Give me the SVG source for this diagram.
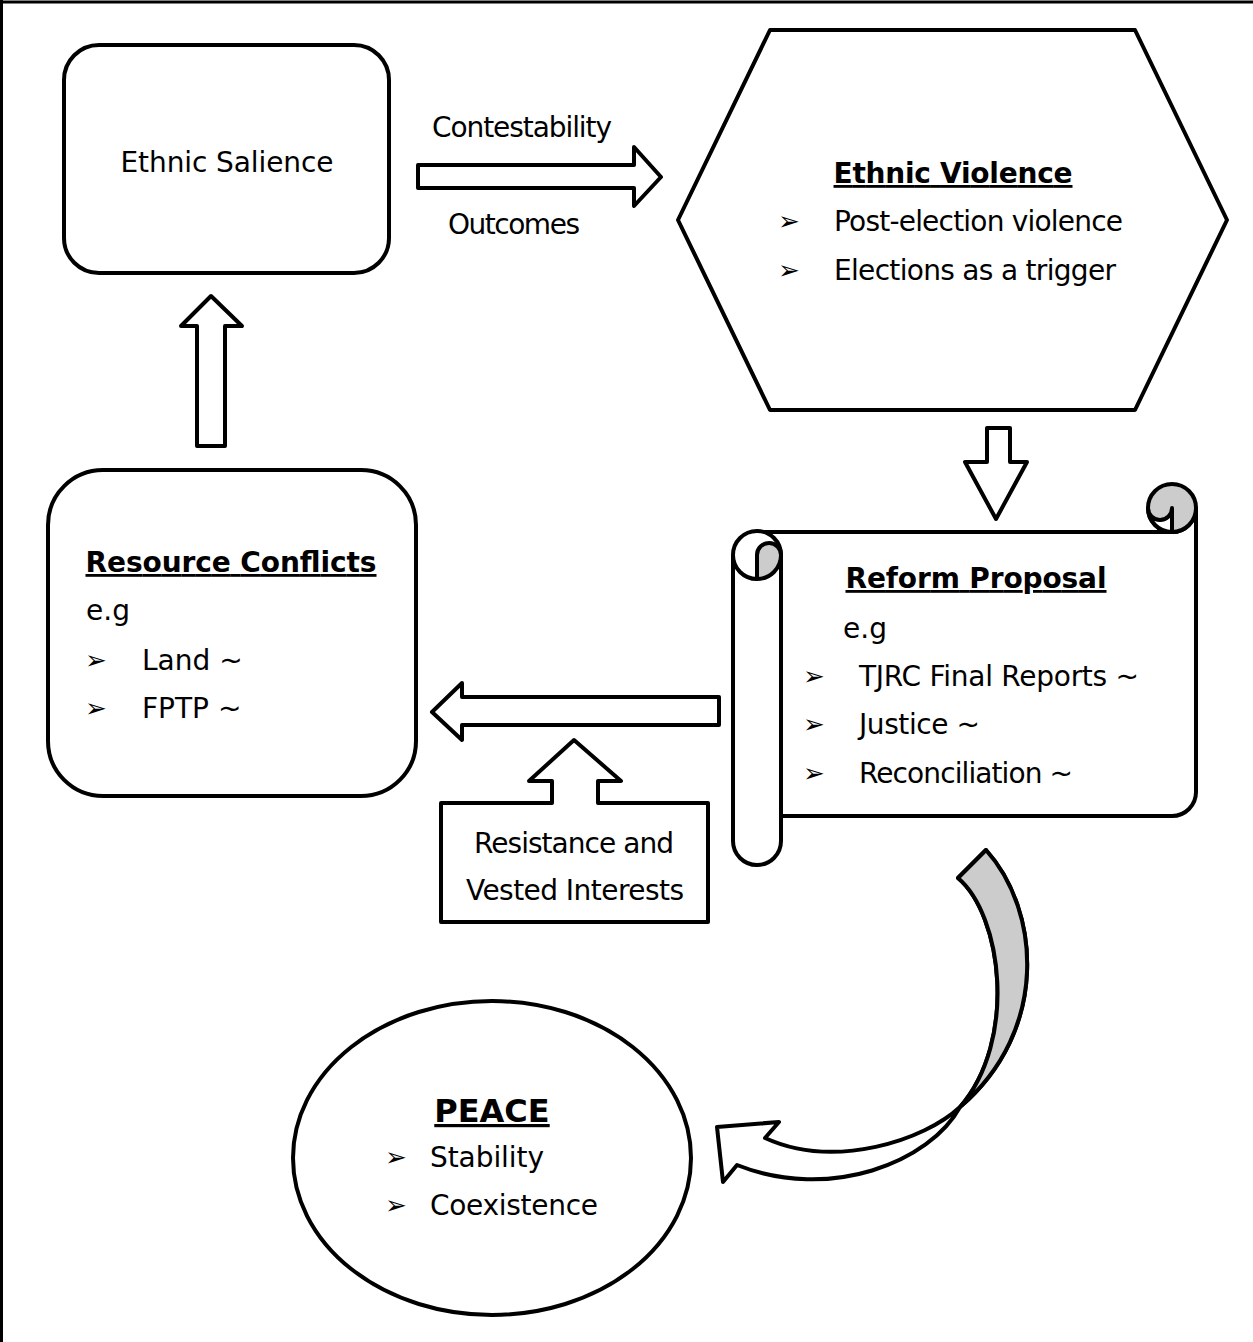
<svg xmlns="http://www.w3.org/2000/svg" width="1253" height="1342" viewBox="0 0 1253 1342">
<style>
text{font-family:"DejaVu Sans","Verdana","Liberation Sans",sans-serif;font-size:28px;fill:#000}
.b{font-weight:bold;text-decoration:underline}
.bul{font-size:26px}
.big{font-size:32px}
.s{fill:#fff;stroke:#000;stroke-width:4;stroke-linejoin:round}
.g{fill:#cccccc;stroke:#000;stroke-width:4;stroke-linejoin:round}
.n{fill:none;stroke:#000;stroke-width:4;stroke-linejoin:round}
</style>
<rect width="1253" height="1342" fill="#fff"/>
<g id="frame">
<line x1="0" y1="2" x2="1253" y2="2" stroke="#000" stroke-width="3"/>
<line x1="1.5" y1="0" x2="1.5" y2="1342" stroke="#000" stroke-width="3"/>
</g>
<g id="connectors">
<path id="c-right" class="s" d="M418,165 H634 V147 L661,177 L634,206 V188 H418 Z"/>
<path id="c-up" class="s" d="M197,446 V326 H181 L211,296 L242,326 H225 V446 Z"/>
<path id="c-down" class="s" d="M987,428 H1010 V462 H1027 L996,519 L965,462 H987 Z"/>
<path id="c-left" class="s" d="M719,697 H462 V683 L432,712 L462,740 V725 H719 Z"/>
<g id="c-curved">
<path class="s" d="M986,850 C1040,910 1050,1030 960,1107 C925,1140 835,1170 765,1138 L779,1122 L717,1127 L723,1182 L737,1165 C830,1202 930,1162 960,1107 C1018,1040 1002,915 958,878 Z"/>
<path class="g" d="M986,850 C1040,910 1050,1030 960,1107 C1018,1040 1002,915 958,878 Z"/>
</g>
</g>
<g id="ethnic-salience">
<rect class="s" x="64" y="45" width="325" height="228" rx="35"/>
<text x="227" y="172" text-anchor="middle" textLength="213">Ethnic Salience</text>
</g>
<g id="arrow-labels">
<text x="522" y="137" text-anchor="middle" textLength="180">Contestability</text>
<text x="514" y="234" text-anchor="middle" textLength="132">Outcomes</text>
</g>
<g id="ethnic-violence">
<polygon class="s" points="770,30 1135,30 1227,220 1135,410 770,410 678,220"/>
<text class="b" x="953" y="183" text-anchor="middle" textLength="239">Ethnic Violence</text>
<text class="bul" x="778" y="230">➢</text>
<text x="834" y="231" textLength="289">Post-election violence</text>
<text class="bul" x="778" y="279">➢</text>
<text x="834" y="280" textLength="282">Elections as a trigger</text>
</g>
<g id="reform-proposal">
<path class="s" d="M757,532 H1172 A24,24 0 0 0 1196,508 V792 A24,24 0 0 1 1172,816 H781 V555 Z"/>
<circle class="g" cx="1172" cy="508" r="24"/>
<path class="s" d="M1148,508 A12,12 0 0 0 1172,508 V532 A24,24 0 0 1 1148,508 Z"/>
<path class="s" d="M733,555 V841 A24,24 0 0 0 781,841 V555 A24,24 0 0 0 733,555 Z"/>
<path class="g" d="M757,555 A12,12 0 0 1 781,555 A24,24 0 0 1 757,579 Z"/>
<path class="n" d="M733,555 A24,24 0 0 0 757,579"/>
<text class="b" x="976" y="588" text-anchor="middle" textLength="261">Reform Proposal</text>
<text x="843" y="638">e.g</text>
<text class="bul" x="803" y="685">➢</text>
<text x="859" y="686" textLength="280">TJRC Final Reports ~</text>
<text class="bul" x="803" y="733">➢</text>
<text x="859" y="734" textLength="121">Justice ~</text>
<text class="bul" x="803" y="782">➢</text>
<text x="859" y="783" textLength="214">Reconciliation ~</text>
</g>
<g id="resource-conflicts">
<rect class="s" x="48" y="470" width="368" height="326" rx="55"/>
<text class="b" x="231" y="572" text-anchor="middle" textLength="291">Resource Conflicts</text>
<text x="86" y="620">e.g</text>
<text class="bul" x="85" y="669">➢</text>
<text x="142" y="670">Land ~</text>
<text class="bul" x="85" y="717">➢</text>
<text x="142" y="718">FPTP ~</text>
</g>
<g id="resistance">
<path class="s" d="M441,803 H552 V781 H529 L574,740 L621,781 H598 V803 H708 V922 H441 Z"/>
<text x="574" y="853" text-anchor="middle" textLength="200">Resistance and</text>
<text x="575" y="900" text-anchor="middle" textLength="218">Vested Interests</text>
</g>
<g id="peace">
<ellipse class="s" cx="492" cy="1158" rx="199" ry="157"/>
<text class="b big" x="492" y="1122" text-anchor="middle">PEACE</text>
<text class="bul" x="385" y="1166">➢</text>
<text x="430" y="1167" textLength="114">Stability</text>
<text class="bul" x="385" y="1214">➢</text>
<text x="430" y="1215" textLength="168">Coexistence</text>
</g>
</svg>
